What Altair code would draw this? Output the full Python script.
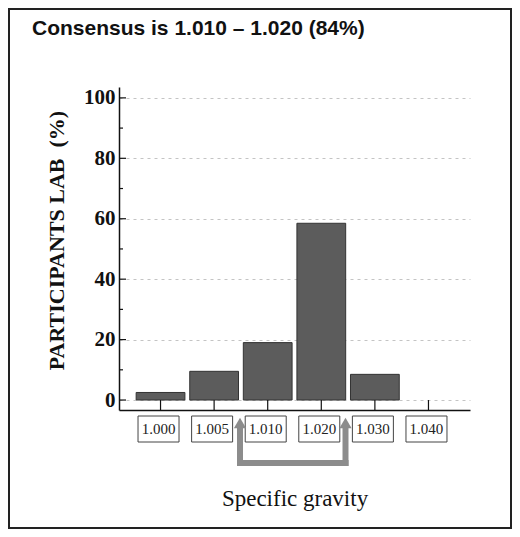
import altair as alt
import pandas as pd

cats = ["1.000", "1.005", "1.010", "1.020", "1.030", "1.040"]
pct = [2.5, 9.5, 19.0, 58.5, 8.5, 0.0]
major_ticks = [0, 20, 40, 60, 80, 100]
minor_ticks = [10, 30, 50, 70, 90]
title_text = "Consensus is 1.010 \u2013 1.020 (84%)"

W, H = 351, 323
df = pd.DataFrame({"cat": cats, "pct": pct})
one = pd.DataFrame({"a": [0]})
xscale = alt.Scale(domain=cats, paddingInner=0.09, paddingOuter=0.32)
yscale = alt.Scale(domain=[-3.3, 103.6], nice=False, zero=False)
ytitle = "PARTICIPANTS LAB\u00a0 (%)"

xaxis = alt.Axis(
    labels=False, ticks=False, tickSize=0, domainColor="#111", domainWidth=1.5,
    title="Specific gravity", titleFont="Liberation Serif", titleFontSize=23,
    titleFontWeight="normal", titleColor="#111", titleY=95, titleBaseline="alphabetic")
yaxis = alt.Axis(
    values=major_ticks, grid=True, gridDash=[3, 4], gridColor="#c4c4c4", gridWidth=1,
    ticks=False, tickSize=0, labelFont="Liberation Serif", labelFontWeight="bold",
    labelFontSize=21, labelColor="#111", labelPadding=4, domainColor="#111", domainWidth=1.5,
    title=ytitle, titleFont="Liberation Serif", titleFontSize=22,
    titleFontWeight="bold", titleColor="#111", titleAngle=-90, titleX=-56, titleY=153,
    titleAlign="center", titleBaseline="alphabetic")

X = lambda: alt.X("cat:N", scale=xscale, axis=xaxis, title="Specific gravity")
Yq = lambda f: alt.Y(f, scale=yscale, axis=yaxis, title=ytitle)

bars = alt.Chart(df).transform_filter("datum.pct > 0").mark_bar(
    fill="#5c5c5c", stroke="#333", strokeWidth=1).encode(x=X(), y=Yq("pct:Q"))

xticks = alt.Chart(df).mark_rule(color="#111", strokeWidth=1.2).encode(
    x=X(),
    y=alt.Y(datum=0, scale=yscale, axis=yaxis, title=ytitle),
    y2=alt.value(H),
)

ymaj = alt.Chart(pd.DataFrame({"v": major_ticks})).mark_rule(color="#111", strokeWidth=1.2).encode(
    y=Yq("v:Q"), x=alt.value(0), x2=alt.value(7))
ymin = alt.Chart(pd.DataFrame({"v": minor_ticks})).mark_rule(color="#111", strokeWidth=1.2).encode(
    y=Yq("v:Q"), x=alt.value(0), x2=alt.value(4))

boxes = alt.Chart(df).mark_bar(width=41, xOffset=-2, fill="white", stroke="#444",
                               strokeWidth=1).encode(
    x=X(), y=alt.value(329), y2=alt.value(355))
box_text = alt.Chart(df).mark_text(font="Liberation Serif", fontSize=15, color="#222",
                                   baseline="middle", dx=-2).encode(
    x=X(), y=alt.value(342), text="cat:N")

acol = "#8c8c8c"
arr_l = alt.Chart(one).mark_rule(color=acol, strokeWidth=6).encode(
    x=alt.value(121), y=alt.value(338), y2=alt.value(379))
arr_r = alt.Chart(one).mark_rule(color=acol, strokeWidth=6).encode(
    x=alt.value(226.5), y=alt.value(338), y2=alt.value(379))
arr_h = alt.Chart(one).mark_rule(color=acol, strokeWidth=6).encode(
    x=alt.value(118), x2=alt.value(229.5), y=alt.value(376))
head_l = alt.Chart(one).mark_point(shape="triangle-up", filled=True, size=150, color=acol,
                                   opacity=1).encode(x=alt.value(121), y=alt.value(336))
head_r = alt.Chart(one).mark_point(shape="triangle-up", filled=True, size=150, color=acol,
                                   opacity=1).encode(x=alt.value(226.5), y=alt.value(336))

title = alt.Chart(one).mark_text(text=title_text, font="Liberation Sans", fontWeight="bold",
                                 fontSize=21, color="#111", align="left",
                                 baseline="alphabetic").encode(
    x=alt.value(-87), y=alt.value(-52))

border = alt.Chart(one).mark_rect(filled=False, stroke="#222", strokeWidth=2).encode(
    x=alt.value(-110), x2=alt.value(392), y=alt.value(-78), y2=alt.value(441))

chart = alt.layer(
    bars, xticks, ymaj, ymin, boxes, box_text, arr_l, arr_r, arr_h, head_l, head_r, title, border
).properties(
    width=W, height=H,
    autosize=alt.AutoSizeParams(type="none"),
    padding={"left": 111, "top": 79, "right": 42, "bottom": 119},
).configure_view(stroke=None)

chart.save("out.html", embed_options={"renderer": "svg", "actions": False})
